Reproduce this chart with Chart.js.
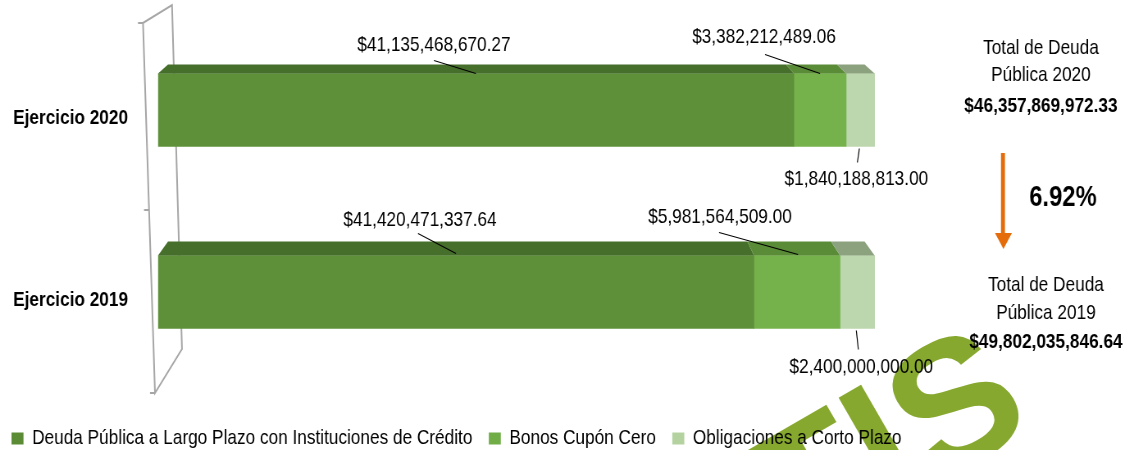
<!DOCTYPE html>
<html>
<head>
<meta charset="utf-8">
<script src="https://cdn.jsdelivr.net/npm/chart.js@4/dist/chart.umd.min.js"></script>
<style>
  html, body { margin: 0; padding: 0; background: #fff; }
</style>
</head>
<body>
<!-- canvas drawn wider and squeezed back to 1134px so Liberation Sans reads like Arial Narrow -->
<canvas id="ctx" width="1383" height="450" style="width:1134px;height:450px"></canvas>
<script>
// data
const categories = ["Ejercicio 2020", "Ejercicio 2019"];
const seriesNames = [
  "Deuda Pública a Largo Plazo con Instituciones de Crédito",
  "Bonos Cupón Cero",
  "Obligaciones a Corto Plazo"
];
const largoPlazo = [41135468670.27, 41420471337.64];
const cuponCero = [3382212489.06, 5981564509.00];
const cortoPlazo = [1840188813.00, 2400000000.00];
const variacion = "6.92%";
const totalYears = ["2020", "2019"];

const SX = 0.82; // horizontal squeeze
const X = (v) => v / SX; // screen px -> canvas px
const FONT = "'Liberation Sans', Arial, sans-serif";
const frontColors = ["#5e9039", "#76b24b", "#bcd6ae"];
const topColors = ["#476f2c", "#5a8b37", "#8ca27e"];
const legendColors = ["#5b8c35", "#70ad47", "#b4d2a0"];
const topDepth = [9, 14];

// label placement relative to each segment (center x, bar top / bottom), screen px
const labelPlace = [
  [{ side: "top", t: [-42, -28], l: [-42, -13, 0, 0] }, { side: "top", t: [-36, -35], l: [-38, -22, 0, -2] }],
  [{ side: "top", t: [-56, -36], l: [-55, -19, 0, 0] }, { side: "top", t: [-77, -38], l: [-78, -23, 1, -1] }],
  [{ side: "bottom", t: [-4, 33], l: [-1, 2, -3, 16] }, { side: "bottom", t: [4, 39], l: [-1, 2, 1, 21] }]
];

const raw = [largoPlazo, cuponCero, cortoPlazo];
const totals = categories.map((c, j) => raw.reduce((s, arr) => s + arr[j], 0));
const money = (v) => "$" + v.toLocaleString("en-US", { minimumFractionDigits: 2, maximumFractionDigits: 2 });

const datasets = raw.map((arr, i) => ({
  label: seriesNames[i],
  data: arr.map((v, j) => (v / totals[j]) * 100),
  backgroundColor: frontColors[i],
  borderWidth: 0,
  barThickness: 73
}));

function backX(x, left, right) {
  return x + X(10) - X(20) * (x - left) / (right - left);
}

const wallPlugin = {
  id: "wall",
  beforeDraw(chart) {
    const c = chart.ctx;
    // watermark, drawn unsqueezed
    c.save();
    c.scale(1 / SX, 1);
    c.fillStyle = "#86a82f";
    c.font = "bold 180px 'Liberation Sans', sans-serif";
    c.translate(770, 523);
    c.rotate(-Math.PI / 6);
    c.fillText("TIS", 0, 0);
    c.restore();
  },
  beforeDatasetsDraw(chart) {
    const c = chart.ctx;
    const a = chart.chartArea;
    const mid = (a.top + a.bottom) / 2 + 9;
    c.save();
    c.strokeStyle = "#a6a6a6";
    c.lineWidth = 2;
    c.beginPath();
    c.moveTo(a.left - X(20), a.top + 4);
    c.lineTo(a.left - X(15), a.top + 4);
    c.lineTo(a.left + X(14), a.top - 14);
    c.lineTo(a.left + X(24), a.bottom - 34);
    c.lineTo(a.left - X(3), a.bottom + 10);
    c.lineTo(a.left - X(15), a.top + 4);
    c.moveTo(a.left - X(3), a.bottom + 10);
    c.lineTo(a.left - X(8), a.bottom + 10);
    c.moveTo(a.left - X(9), mid);
    c.lineTo(a.left - X(14), mid);
    c.stroke();
    c.restore();
  },
  afterDatasetsDraw(chart) {
    const c = chart.ctx;
    c.save();
    // top faces
    categories.forEach((cat, j) => {
      const first = chart.getDatasetMeta(0).data[j];
      const last = chart.getDatasetMeta(raw.length - 1).data[j];
      const L = first.base, R = last.x;
      raw.forEach((arr, i) => {
        const el = chart.getDatasetMeta(i).data[j];
        const top = el.y - el.height / 2;
        const d = topDepth[j];
        c.fillStyle = topColors[i];
        c.beginPath();
        c.moveTo(el.base, top);
        c.lineTo(el.x, top);
        c.lineTo(backX(el.x, L, R), top - d);
        c.lineTo(backX(el.base, L, R), top - d);
        c.closePath();
        c.fill();
      });
    });
    // value labels with leader lines
    c.font = "21px " + FONT;
    c.fillStyle = "#000";
    c.strokeStyle = "#000";
    c.lineWidth = 1.2;
    c.textAlign = "center";
    c.textBaseline = "middle";
    raw.forEach((arr, i) => {
      chart.getDatasetMeta(i).data.forEach((el, j) => {
        const p = labelPlace[i][j];
        const cx = (el.base + el.x) / 2;
        const cy = p.side === "top" ? el.y - el.height / 2 : el.y + el.height / 2;
        c.beginPath();
        c.moveTo(cx + X(p.l[0]), cy + p.l[1]);
        c.lineTo(cx + X(p.l[2]), cy + p.l[3]);
        c.stroke();
        c.fillText(money(arr[j]), cx + X(p.t[0]), cy + p.t[1]);
      });
    });
    // totals on the right
    const ys = chart.scales.y;
    const offs = [[-62, -35, -4], [-7, 21, 50]];
    categories.forEach((cat, j) => {
      const yc = ys.getPixelForValue(j);
      const bx = X(1041 + j * 5);
      c.font = "21px " + FONT;
      c.fillText("Total de Deuda", bx, yc + offs[j][0]);
      c.fillText("Pública " + totalYears[j], bx, yc + offs[j][1]);
      c.font = "bold 21px " + FONT;
      c.fillText(money(totals[j]), bx, yc + offs[j][2]);
    });
    // arrow and change
    const y0 = ys.getPixelForValue(0), y1 = ys.getPixelForValue(1);
    c.strokeStyle = "#e46c0a";
    c.fillStyle = "#e46c0a";
    c.lineWidth = X(4);
    c.beginPath();
    c.moveTo(X(1003), y0 + 43);
    c.lineTo(X(1003), y1 - 58);
    c.stroke();
    c.beginPath();
    c.moveTo(X(995), y1 - 59);
    c.lineTo(X(1012), y1 - 59);
    c.lineTo(X(1003.5), y1 - 43);
    c.closePath();
    c.fill();
    c.fillStyle = "#000";
    c.font = "bold 29px " + FONT;
    c.fillText(variacion, X(1063), (y0 + y1) / 2 - 3);
    c.restore();
  }
};

new Chart(document.getElementById("ctx"), {
  type: "bar",
  data: { labels: categories, datasets: datasets },
  plugins: [wallPlugin],
  options: {
    indexAxis: "y",
    responsive: false,
    maintainAspectRatio: false,
    devicePixelRatio: 1,
    animation: false,
    layout: { padding: { top: 19, right: 0, bottom: -9, left: -6 } },
    scales: {
      x: {
        // the right part of the axis is left empty for the totals block
        stacked: true, min: 0, max: 136.2,
        ticks: { display: false },
        grid: { display: false, drawTicks: false },
        border: { display: false },
        afterFit: (s) => { s.height = 25; }
      },
      y: {
        stacked: true,
        grid: { display: false, drawTicks: false },
        border: { display: false },
        afterFit: (s) => {
          s.width = X(158) + 6;
          s.paddingTop = 0;
          s.paddingBottom = 0;
        },
        ticks: {
          color: "#000",
          padding: X(30),
          labelOffset: 8,
          font: { family: FONT, size: 21, weight: "bold" }
        }
      }
    },
    plugins: {
      tooltip: { enabled: false },
      legend: {
        position: "bottom",
        align: "start",
        labels: {
          color: "#000",
          boxWidth: X(12),
          boxHeight: 12,
          padding: 20,
          font: { family: FONT, size: 21 },
          generateLabels: () => seriesNames.map((n, i) => ({
            text: n, fillStyle: legendColors[i], strokeStyle: legendColors[i], lineWidth: 0, datasetIndex: i
          }))
        }
      }
    }
  }
});
</script>
</body>
</html>
